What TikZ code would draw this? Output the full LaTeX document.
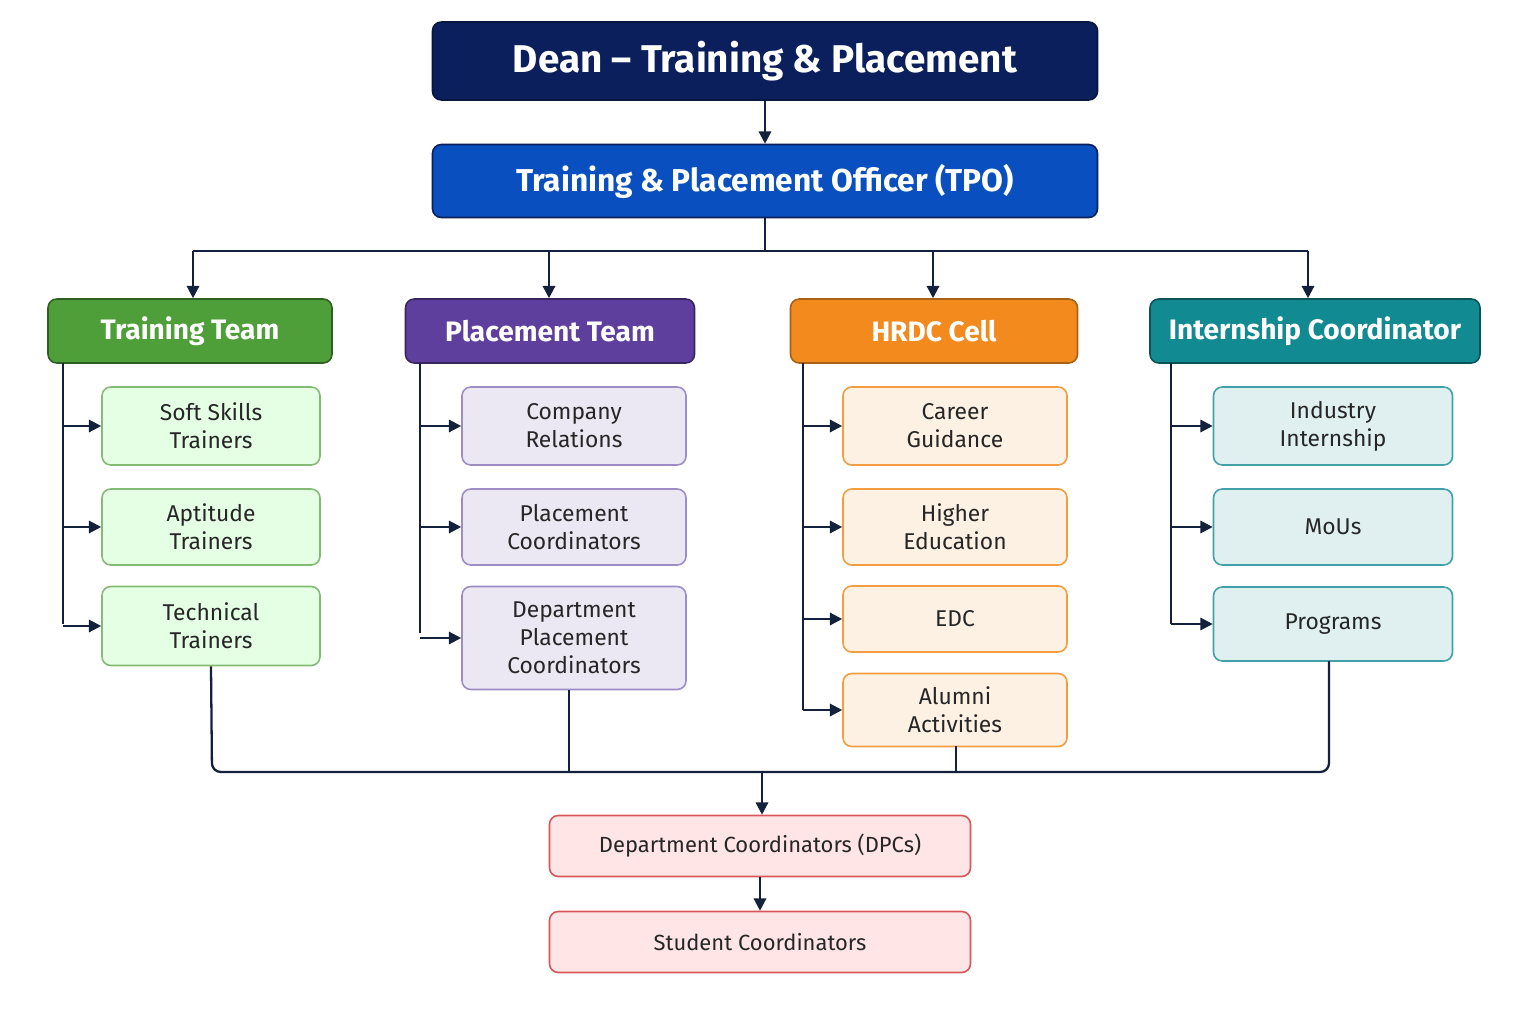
\documentclass[tikz,border=0pt]{standalone}
\usepackage{fontspec}
\setmainfont{Fira Sans}
\usetikzlibrary{arrows.meta}
\definecolor{navy}{HTML}{0B1F5C}
\definecolor{tpoblue}{HTML}{0A4FBF}
\definecolor{trgreen}{HTML}{4E9E3A}
\definecolor{plpurple}{HTML}{5E3F9E}
\definecolor{hrorange}{HTML}{F28A1E}
\definecolor{inteal}{HTML}{128A91}
\definecolor{linecol}{HTML}{14213D}
\definecolor{redline}{HTML}{D9575C}
\begin{document}
\begin{tikzpicture}[x=0.02cm,y=-0.02cm,
  box/.style={draw, rounded corners=5pt, align=center, inner sep=0pt, line width=0.9pt},
  head/.style={box, text=white, font=\fontsize{16}{18}\selectfont\bfseries, minimum height=64*0.02cm},
  child/.style={box, font=\fontsize{13}{16}\selectfont, text=black!85},
  link/.style={line width=1.3pt, draw=linecol},
  tip/.style={link, -{Triangle[length=7pt,width=7pt]}}]

\path [use as bounding box, fill=white] (0,0) rectangle (1536,1024);

% TOP
\node [box, fill=navy, draw=navy!70!black, text=white, minimum width=665*0.02cm, minimum height=78*0.02cm,
  font=\fontsize{22}{24}\selectfont\bfseries] (dean) at (765,61) {Dean -- Training \& Placement};
\node [box, fill=tpoblue, draw=navy, text=white, minimum width=665*0.02cm, minimum height=73*0.02cm,
  font=\fontsize{18}{20}\selectfont\bfseries] (tpo) at (765,181) {Training \& Placement Officer (TPO)};
\draw [tip] (dean) -- (tpo);

% HEADS
\node [head, fill=trgreen, draw=trgreen!60!black, minimum width=284*0.02cm] (train) at (190,331) {Training Team};
\node [head, fill=plpurple, draw=plpurple!60!black, minimum width=289*0.02cm] (place) at (550,331) {Placement Team};
\node [head, fill=hrorange, draw=hrorange!70!black, minimum width=287*0.02cm] (hrdc) at (934,331) {HRDC Cell};
\node [head, fill=inteal, draw=inteal!60!black, minimum width=330*0.02cm] (intern) at (1315,331) {Internship Coordinator};

\coordinate (bus) at (765,251);
\draw [link] (tpo) -- (bus);
\draw [link] (193,251) -- (1308,251);
\foreach \x/\n in {193/train,549/place,933/hrdc,1308/intern}
  \draw [tip] (\x,251) -- (\x,0 |- \n.north);

% CHILDREN
\tikzset{
  trbox/.style={child, fill=green!10, draw=trgreen!70, minimum width=218*0.02cm},
  plbox/.style={child, fill=plpurple!12, draw=plpurple!60, minimum width=224*0.02cm},
  hrbox/.style={child, fill=hrorange!12, draw=hrorange!85, minimum width=224*0.02cm},
  itbox/.style={child, fill=inteal!13, draw=inteal!80, minimum width=239*0.02cm}}

\node [trbox, minimum height=78*0.02cm] (soft) at (211,426) {Soft Skills\\Trainers};
\node [trbox, minimum height=76*0.02cm] (apt) at (211,527) {Aptitude\\Trainers};
\node [trbox, minimum height=79*0.02cm] (tech) at (211,626) {Technical\\Trainers};

\node [plbox, minimum height=78*0.02cm] (comp) at (574,426) {Company\\Relations};
\node [plbox, minimum height=76*0.02cm] (pcoord) at (574,527) {Placement\\Coordinators};
\node [plbox, minimum height=103*0.02cm] (dpcoord) at (574,638) {Department\\Placement\\Coordinators};

\node [hrbox, minimum height=78*0.02cm] (career) at (955,426) {Career\\Guidance};
\node [hrbox, minimum height=76*0.02cm] (higher) at (955,527) {Higher\\Education};
\node [hrbox, minimum height=66*0.02cm] (edc) at (955,619) {EDC};
\node [hrbox, minimum height=73*0.02cm] (alumni) at (955,710) {Alumni\\Activities};

\node [itbox, minimum height=78*0.02cm] (indus) at (1333,426) {Industry\\Internship};
\node [itbox, minimum height=76*0.02cm] (mous) at (1333,527) {MoUs};
\node [itbox, minimum height=74*0.02cm] (prog) at (1333,624) {Programs};

% SIDE LINKS
\draw [link] (63,363) -- (63,624);
\foreach \n in {soft,apt,tech} \draw [tip] (63,0 |- \n.west) -- (\n.west);
\draw [link] (420,363) -- (420,633);
\foreach \n in {comp,pcoord,dpcoord} \draw [tip] (420,0 |- \n.west) -- (\n.west);
\draw [link] (803,363) -- (803,710);
\foreach \n in {career,higher,edc,alumni} \draw [tip] (803,0 |- \n.west) -- (\n.west);
\draw [link] (1171,363) -- (1171,624);
\foreach \n in {indus,mous,prog} \draw [tip] (1171,0 |- \n.west) -- (\n.west);

% BOTTOM
\node [child, fill=red!10, draw=redline, minimum width=421*0.02cm, minimum height=61*0.02cm,
  font=\fontsize{12.5}{14}\selectfont] (dpc) at (760,846) {Department Coordinators (DPCs)};
\node [child, fill=red!10, draw=redline, minimum width=421*0.02cm, minimum height=61*0.02cm,
  font=\fontsize{12.5}{14}\selectfont] (stud) at (760,942) {Student Coordinators};

\draw [link, rounded corners=5pt] (tech.south) -- (212,772) -- (1329,772) -- (1329,661);
\draw [link] (569,690) -- (569,772);
\draw [link] (956,746) -- (956,772);
\draw [tip] (762,772) -- (762,0 |- dpc.north);
\draw [tip] (dpc) -- (stud);
\end{tikzpicture}
\end{document}
